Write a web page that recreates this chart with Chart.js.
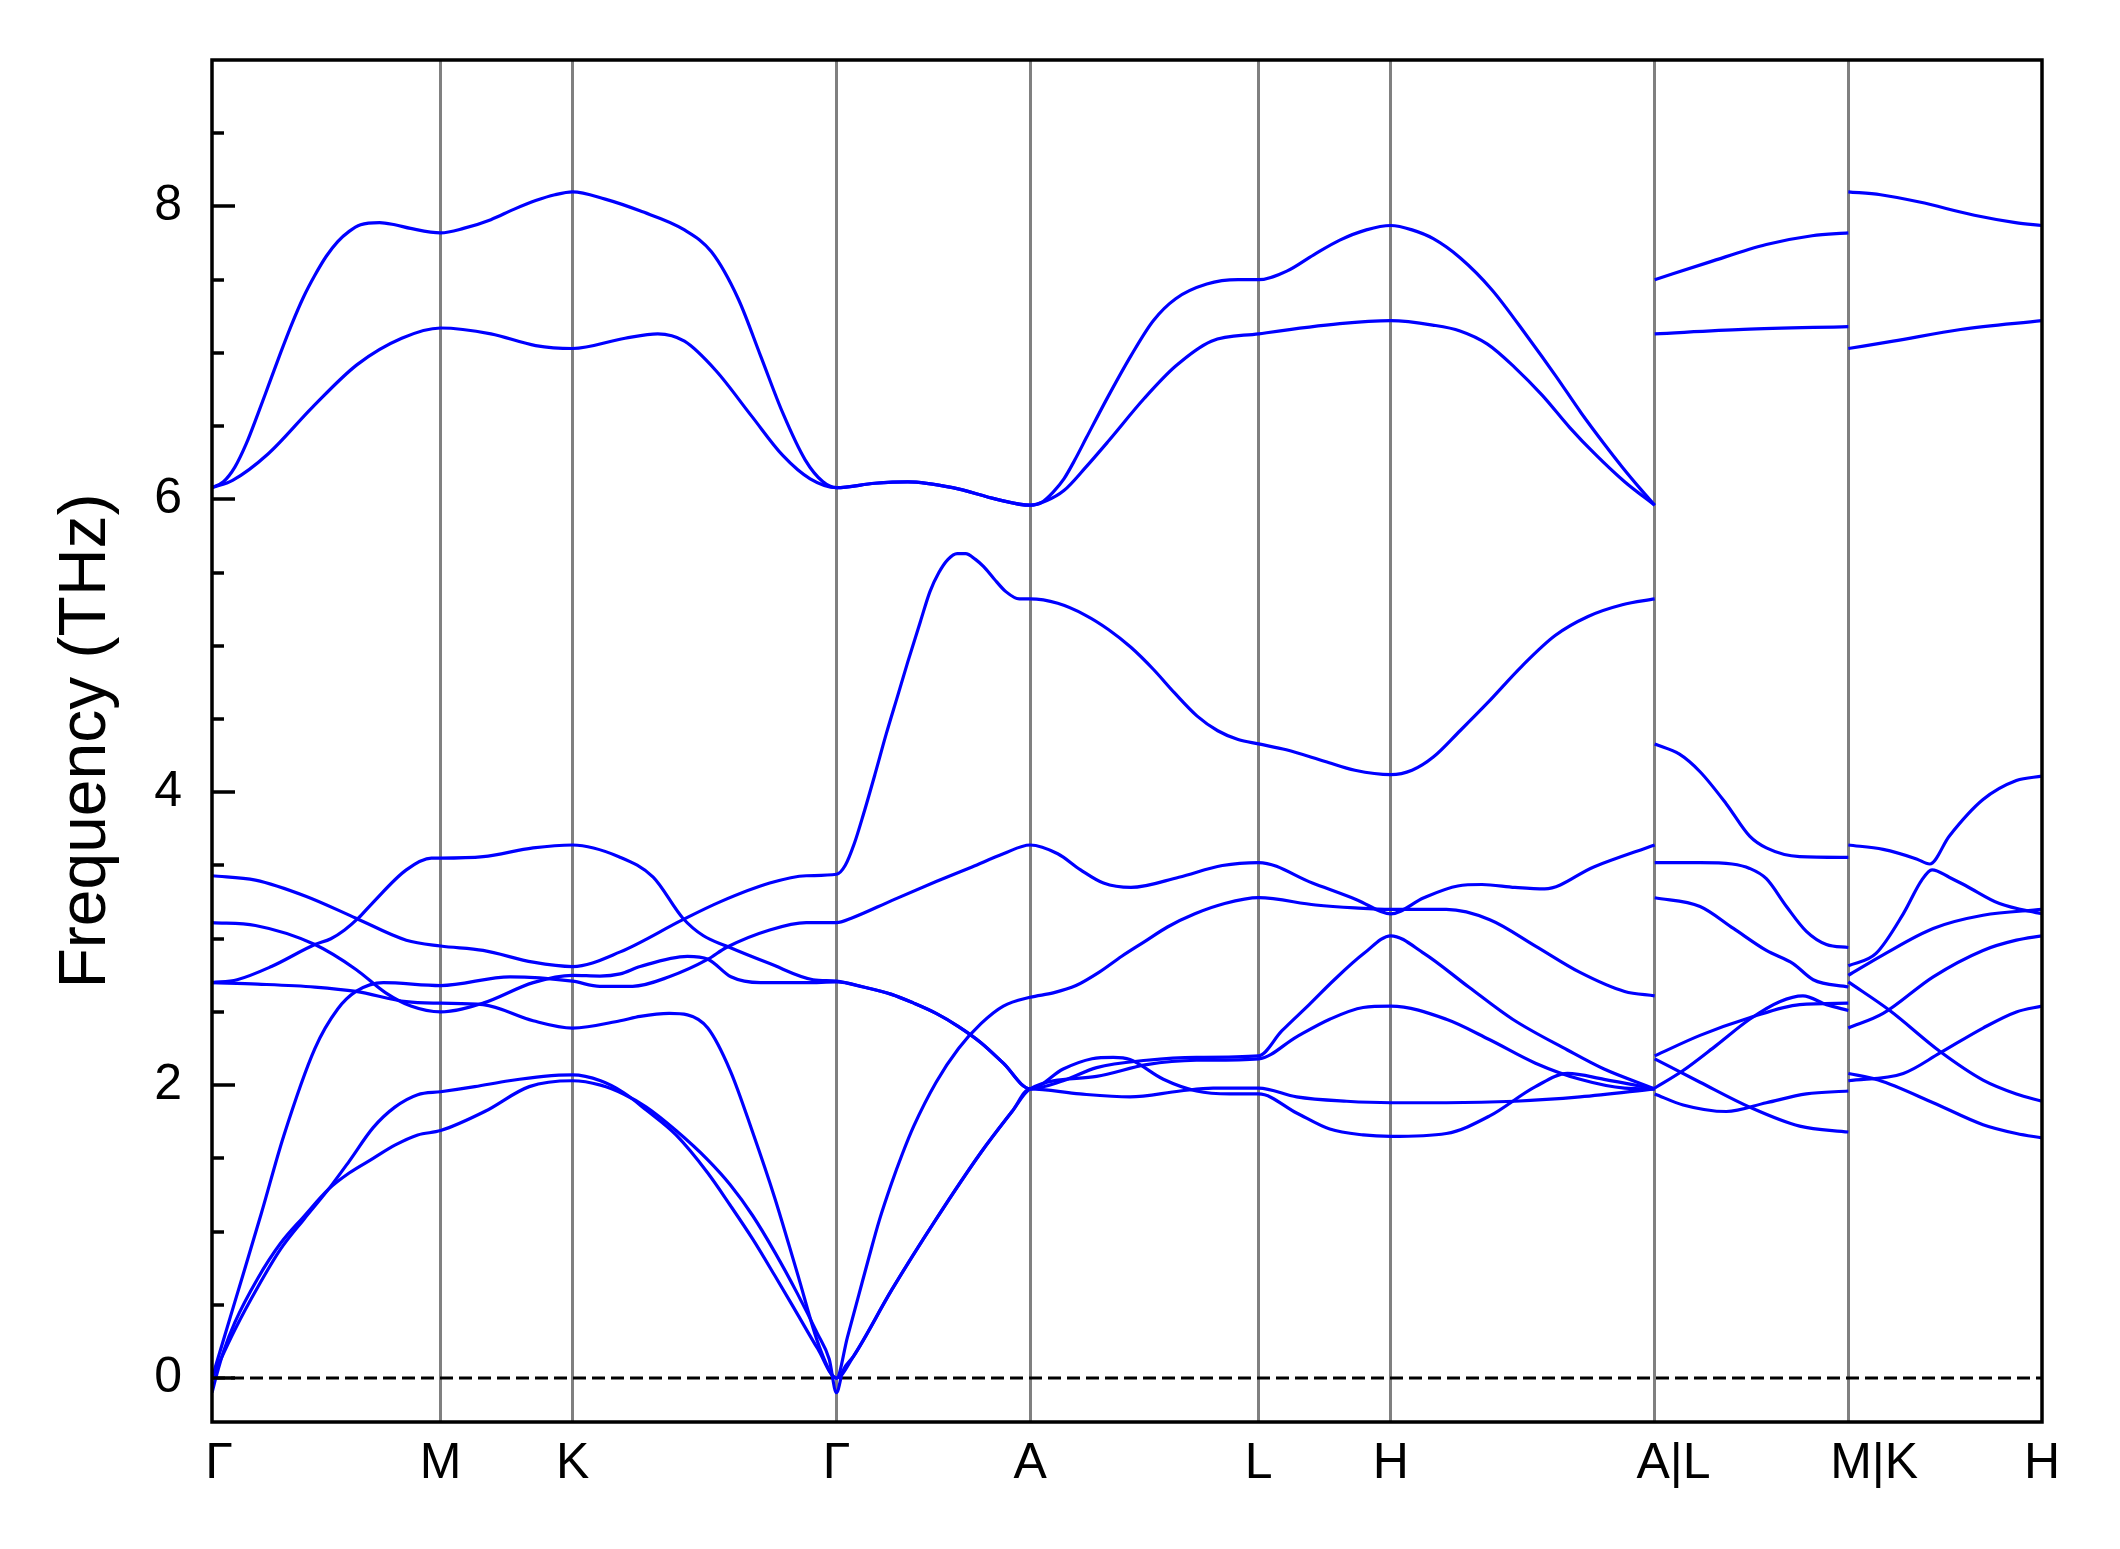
<!DOCTYPE html>
<html>
<head>
<meta charset="utf-8">
<script src="https://cdn.jsdelivr.net/npm/chart.js"></script>
<style>
html,body{margin:0;padding:0;background:#ffffff;}
#wrap{width:2120px;height:1549px;position:relative;}
</style>
</head>
<body>
<div id="wrap"><canvas id="c" width="2120" height="1549"></canvas></div>
<script>
// High-symmetry path (cumulative path length, Γ–M = 1)
const kLabels = ['\u0020Γ', 'M', 'K', 'Γ', 'A', 'L', 'H', '\u0020\u0020\u2009A|L', '\u0020\u0020\u0020\u2009M|K', 'H'];
const kPos = [0, 1, 1.5774, 2.7321, 3.5794, 4.5794, 5.1568, 6.3115, 7.1588, 8.006];
const yMajor = [0, 2, 4, 6, 8];
const yMinor = [0.5, 1, 1.5, 2.5, 3, 3.5, 4.5, 5, 5.5, 6.5, 7, 7.5, 8.5];

// ---- Section 1: Γ–M–K–Γ–A–L–H–A  ([x, THz]) ----
const band1 = [[0,6.08],[0.05,6.12],[0.10,6.22],[0.15,6.38],[0.20,6.58],[0.25,6.79],[0.30,7.00],[0.35,7.20],[0.40,7.38],[0.45,7.53],[0.50,7.66],[0.55,7.76],[0.60,7.83],[0.65,7.875],[0.733,7.89],[0.80,7.875],[0.869,7.85],[1.0,7.82],[1.10,7.85],[1.22,7.91],[1.32,7.98],[1.416,8.04],[1.50,8.08],[1.577,8.10],[1.72,8.05],[1.872,7.97],[2.067,7.84],[2.185,7.69],[2.302,7.37],[2.40,6.98],[2.497,6.59],[2.595,6.27],[2.673,6.12],[2.732,6.08],[2.90,6.11],[3.044,6.12],[3.24,6.08],[3.434,6.0],[3.579,5.96],[3.63,5.98],[3.68,6.05],[3.727,6.14],[3.775,6.27],[3.825,6.42],[3.923,6.71],[4.02,6.98],[4.118,7.22],[4.216,7.37],[4.352,7.47],[4.489,7.50],[4.579,7.50],[4.704,7.56],[4.82,7.67],[4.934,7.77],[5.05,7.84],[5.157,7.87],[5.25,7.84],[5.343,7.78],[5.46,7.65],[5.60,7.43],[5.76,7.10],[5.88,6.84],[5.99,6.59],[6.09,6.38],[6.17,6.22],[6.25,6.07],[6.3115,5.96]];
const band2 = [[0,6.08],[0.09,6.13],[0.245,6.31],[0.44,6.63],[0.635,6.92],[0.83,7.10],[1.0,7.17],[1.22,7.13],[1.416,7.05],[1.577,7.03],[1.807,7.10],[1.95,7.13],[2.067,7.08],[2.204,6.88],[2.36,6.57],[2.497,6.30],[2.617,6.14],[2.732,6.08],[2.90,6.11],[3.044,6.12],[3.24,6.08],[3.434,6.0],[3.579,5.96],[3.65,5.99],[3.727,6.06],[3.823,6.22],[3.923,6.40],[4.079,6.69],[4.216,6.91],[4.372,7.08],[4.579,7.13],[4.934,7.20],[5.157,7.22],[5.34,7.19],[5.46,7.15],[5.58,7.06],[5.70,6.90],[5.82,6.71],[5.94,6.49],[6.05,6.31],[6.18,6.12],[6.3115,5.96]];
const band3 = [[0,2.70],[0.11,2.72],[0.26,2.81],[0.45,2.96],[0.52,3.00],[0.58,3.06],[0.64,3.14],[0.70,3.24],[0.85,3.47],[0.96,3.55],[1.0,3.55],[1.186,3.56],[1.405,3.62],[1.577,3.64],[1.78,3.56],[1.93,3.42],[2.06,3.14],[2.15,3.02],[2.25,2.95],[2.44,2.83],[2.63,2.72],[2.732,2.71],[2.85,2.67],[2.973,2.62],[3.07,2.56],[3.168,2.49],[3.266,2.40],[3.364,2.29],[3.462,2.15],[3.579,1.975],[3.724,2.11],[3.85,2.18],[3.943,2.19],[4.016,2.175],[4.162,2.04],[4.307,1.96],[4.453,1.94],[4.579,1.94],[4.745,1.81],[4.89,1.70],[5.036,1.66],[5.157,1.65],[5.40,1.67],[5.59,1.79],[5.79,1.99],[5.93,2.08],[6.09,2.04],[6.3115,1.975]];
const band4 = [[0,3.43],[0.19,3.40],[0.41,3.29],[0.63,3.14],[0.85,2.99],[1.0,2.95],[1.186,2.92],[1.405,2.84],[1.577,2.81],[1.786,2.91],[2.06,3.13],[2.22,3.25],[2.44,3.38],[2.60,3.43],[2.732,3.44],[2.77,3.50],[2.81,3.65],[2.85,3.85],[2.90,4.12],[2.95,4.40],[3.0,4.66],[3.044,4.89],[3.10,5.17],[3.141,5.37],[3.18,5.50],[3.22,5.59],[3.26,5.63],[3.297,5.63],[3.34,5.59],[3.376,5.54],[3.42,5.46],[3.473,5.37],[3.532,5.32],[3.579,5.32],[3.70,5.29],[3.82,5.21],[3.923,5.11],[4.02,4.99],[4.118,4.84],[4.21,4.68],[4.31,4.52],[4.40,4.42],[4.489,4.36],[4.579,4.33],[4.70,4.29],[4.87,4.21],[5.0,4.15],[5.157,4.12],[5.25,4.15],[5.343,4.24],[5.46,4.42],[5.58,4.61],[5.73,4.86],[5.876,5.07],[6.02,5.20],[6.17,5.28],[6.3115,5.32]];
const band5 = [[0,3.11],[0.19,3.09],[0.45,2.96],[0.63,2.79],[0.76,2.63],[0.87,2.54],[1.0,2.50],[1.186,2.56],[1.405,2.70],[1.577,2.75],[1.697,2.745],[1.786,2.76],[1.873,2.81],[2.08,2.88],[2.17,2.86],[2.27,2.74],[2.40,2.70],[2.60,2.70],[2.732,2.705],[2.85,2.67],[2.973,2.62],[3.07,2.56],[3.168,2.49],[3.266,2.40],[3.364,2.29],[3.462,2.15],[3.579,1.975],[3.724,2.03],[3.87,2.12],[4.089,2.17],[4.307,2.19],[4.579,2.20],[4.68,2.37],[4.80,2.55],[4.91,2.72],[5.04,2.90],[5.157,3.02],[5.302,2.90],[5.498,2.67],[5.69,2.45],[5.93,2.24],[6.09,2.11],[6.3115,1.975]];
const band6 = [[0,2.70],[0.2,2.69],[0.45,2.67],[0.63,2.64],[0.85,2.57],[1.0,2.56],[1.186,2.55],[1.405,2.44],[1.577,2.39],[1.786,2.44],[1.873,2.47],[2.0,2.49],[2.08,2.48],[2.169,2.39],[2.267,2.10],[2.365,1.68],[2.462,1.23],[2.56,0.72],[2.658,0.21],[2.732,0],[2.78,0.28],[2.83,0.57],[2.875,0.83],[2.92,1.08],[2.973,1.33],[3.02,1.53],[3.07,1.72],[3.168,2.02],[3.266,2.25],[3.364,2.42],[3.462,2.54],[3.579,2.60],[3.68,2.63],[3.78,2.68],[3.88,2.77],[3.98,2.88],[4.08,2.98],[4.18,3.08],[4.30,3.17],[4.43,3.24],[4.579,3.28],[4.828,3.23],[5.0,3.21],[5.157,3.20],[5.40,3.20],[5.59,3.13],[5.79,2.95],[5.985,2.77],[6.18,2.64],[6.3115,2.61]];
const band7 = [[0,0],[0.1,0.52],[0.215,1.12],[0.313,1.65],[0.45,2.25],[0.55,2.52],[0.63,2.64],[0.75,2.70],[1.0,2.68],[1.304,2.74],[1.577,2.71],[1.697,2.675],[1.84,2.675],[2.0,2.74],[2.17,2.86],[2.25,2.94],[2.44,3.06],[2.60,3.11],[2.732,3.11],[2.797,3.14],[2.973,3.26],[3.168,3.39],[3.325,3.49],[3.462,3.58],[3.579,3.64],[3.70,3.58],[3.80,3.47],[3.90,3.38],[4.02,3.35],[4.23,3.42],[4.42,3.50],[4.579,3.52],[4.814,3.38],[5.01,3.265],[5.157,3.17],[5.302,3.28],[5.45,3.36],[5.556,3.37],[5.70,3.35],[5.83,3.34],[6.045,3.49],[6.3115,3.64]];
const band8 = [[0,0],[0.1,0.33],[0.2,0.62],[0.3,0.88],[0.4,1.08],[0.51,1.29],[0.6,1.48],[0.705,1.71],[0.8,1.85],[0.9,1.935],[1.0,1.955],[1.15,1.99],[1.3,2.03],[1.45,2.06],[1.577,2.07],[1.70,2.03],[1.80,1.95],[1.90,1.83],[2.03,1.66],[2.169,1.40],[2.267,1.18],[2.365,0.95],[2.462,0.70],[2.56,0.44],[2.65,0.20],[2.732,0],[2.807,0.15],[2.973,0.60],[3.168,1.085],[3.364,1.54],[3.50,1.82],[3.579,1.975],[3.87,2.06],[4.089,2.14],[4.307,2.17],[4.579,2.18],[4.745,2.33],[4.89,2.45],[5.036,2.53],[5.157,2.54],[5.40,2.45],[5.59,2.31],[5.79,2.15],[5.985,2.04],[6.18,1.98],[6.3115,1.975]];
const band9 = [[0,-0.1],[0.02,0.02],[0.05,0.18],[0.1,0.38],[0.2,0.68],[0.3,0.92],[0.4,1.1],[0.51,1.29],[0.6,1.40],[0.705,1.50],[0.8,1.59],[0.9,1.66],[1.0,1.69],[1.193,1.82],[1.388,1.99],[1.577,2.03],[1.70,2.00],[1.80,1.94],[1.90,1.85],[2.03,1.69],[2.169,1.49],[2.267,1.32],[2.365,1.11],[2.462,0.86],[2.56,0.58],[2.65,0.30],[2.70,0.13],[2.732,-0.1],[2.76,0.05],[2.807,0.15],[2.973,0.60],[3.168,1.085],[3.364,1.54],[3.50,1.82],[3.579,1.975],[3.797,1.94],[4.016,1.92],[4.235,1.96],[4.38,1.98],[4.579,1.98],[4.745,1.92],[4.964,1.89],[5.157,1.88],[5.40,1.88],[5.70,1.89],[5.985,1.92],[6.3115,1.975]];

// ---- Section 2: L–M ----
const lm1 = [[6.3115,4.33],[6.42,4.26],[6.51,4.14],[6.625,3.92],[6.727,3.70],[6.80,3.62],[6.946,3.56],[7.1588,3.555]];
const lm2 = [[6.3115,3.52],[6.51,3.52],[6.65,3.51],[6.727,3.48],[6.80,3.41],[6.888,3.22],[6.975,3.05],[7.063,2.96],[7.1588,2.94]];
const lm3 = [[6.3115,3.28],[6.51,3.22],[6.656,3.07],[6.80,2.92],[6.917,2.83],[7.005,2.72],[7.1588,2.67]];
const lm4 = [[6.3115,2.20],[6.51,2.34],[6.727,2.46],[6.946,2.55],[7.1588,2.56]];
const lm5 = [[6.3115,2.18],[6.51,2.02],[6.727,1.85],[6.946,1.72],[7.1588,1.68]];
const lm6 = [[6.3115,1.98],[6.436,2.10],[6.58,2.27],[6.727,2.45],[6.858,2.57],[6.96,2.61],[7.063,2.55],[7.1588,2.51]];
const lm7 = [[6.3115,1.94],[6.436,1.865],[6.625,1.82],[6.80,1.88],[6.975,1.94],[7.1588,1.96]];
const lm8 = [[6.3115,7.50],[6.55,7.62],[6.80,7.74],[7.0,7.80],[7.1588,7.82]];
const lm9 = [[6.3115,7.13],[6.7,7.16],[7.1588,7.18]];

// ---- Section 3: K–H ----
const kh1 = [[7.1588,3.64],[7.311,3.61],[7.457,3.545],[7.515,3.51],[7.60,3.70],[7.748,3.95],[7.894,4.08],[8.006,4.11]];
const kh2 = [[7.1588,2.815],[7.28,2.90],[7.399,3.17],[7.48,3.40],[7.525,3.47],[7.60,3.42],[7.675,3.36],[7.82,3.24],[8.006,3.17]];
const kh3 = [[7.1588,2.75],[7.311,2.89],[7.53,3.07],[7.748,3.16],[8.006,3.20]];
const kh4 = [[7.1588,2.705],[7.34,2.51],[7.56,2.23],[7.748,2.035],[7.894,1.94],[8.006,1.89]];
const kh5 = [[7.1588,2.39],[7.311,2.49],[7.53,2.74],[7.748,2.92],[7.894,2.99],[8.006,3.02]];
const kh6 = [[7.1588,2.08],[7.29,2.035],[7.53,1.88],[7.748,1.73],[7.894,1.67],[8.006,1.64]];
const kh7 = [[7.1588,2.03],[7.399,2.08],[7.56,2.22],[7.748,2.39],[7.894,2.50],[8.006,2.54]];
const kh8 = [[7.1588,8.10],[7.30,8.08],[7.47,8.03],[7.71,7.94],[7.89,7.89],[8.006,7.87]];
const kh9 = [[7.1588,7.03],[7.355,7.08],[7.65,7.16],[8.006,7.22]];

const zeroLine = [[0,0],[8.006,0]];

const bands = [band1,band2,band3,band4,band5,band6,band7,band8,band9,
               lm1,lm2,lm3,lm4,lm5,lm6,lm7,lm8,lm9,
               kh1,kh2,kh3,kh4,kh5,kh6,kh7,kh8,kh9];

const FONT = "'Liberation Sans', Arial, Helvetica, sans-serif";

const datasets = bands.map(b => ({
  data: b.map(p => ({x: p[0], y: p[1]})),
  borderColor: '#0000ff',
  borderWidth: 3.2,
  pointRadius: 0,
  fill: false,
  cubicInterpolationMode: 'monotone'
}));
datasets.push({
  data: zeroLine.map(p => ({x: p[0], y: p[1]})),
  borderColor: '#000000',
  borderWidth: 3,
  borderDash: [13, 6],
  pointRadius: 0,
  fill: false
});

const framePlugin = {
  id: 'frame',
  afterDatasetsDraw(chart) {
    const {ctx, chartArea: a, scales} = chart;
    const y = scales.y;
    ctx.save();
    ctx.strokeStyle = '#000';
    ctx.lineWidth = 3.5;
    ctx.lineCap = 'butt';
    ctx.beginPath();
    yMajor.forEach(v => {
      const p = Math.round(y.getPixelForValue(v));
      ctx.moveTo(a.left, p); ctx.lineTo(a.left + 23, p);
    });
    yMinor.forEach(v => {
      const p = Math.round(y.getPixelForValue(v));
      ctx.moveTo(a.left, p); ctx.lineTo(a.left + 12, p);
    });
    ctx.stroke();
    ctx.strokeRect(a.left, a.top, a.right - a.left, a.bottom - a.top);
    ctx.restore();
  }
};

new Chart(document.getElementById('c'), {
  type: 'line',
  data: {datasets},
  options: {
    responsive: false,
    animation: false,
    devicePixelRatio: 1,
    layout: {padding: {top: 58, right: 78, left: 0, bottom: 0}},
    plugins: {legend: {display: false}, tooltip: {enabled: false}},
    scales: {
      x: {
        type: 'linear', min: 0, max: 8.006,
        afterBuildTicks: s => { s.ticks = kPos.map(v => ({value: v})); },
        afterFit: s => { s.height = 127; },
        ticks: {
          autoSkip: false, maxRotation: 0, minRotation: 0, padding: 12,
          color: '#000', font: {family: FONT, size: 50},
          callback: (v, i) => kLabels[i]
        },
        grid: {
          drawTicks: false, lineWidth: 3,
          color: c => (c.index === 0 || c.index === kPos.length - 1) ? 'rgba(0,0,0,0)' : '#808080'
        },
        border: {display: false}
      },
      y: {
        type: 'linear', min: -0.3, max: 9,
        afterBuildTicks: s => { s.ticks = yMajor.map(v => ({value: v})); },
        afterFit: s => { s.width = 212; },
        ticks: {padding: 30, color: '#000', font: {family: FONT, size: 50}},
        grid: {display: false, drawTicks: false},
        border: {display: false},
        title: {
          display: true, text: 'Frequency (THz)', color: '#000',
          font: {family: FONT, size: 66},
          padding: {top: 47, bottom: 0}
        }
      }
    }
  },
  plugins: [framePlugin]
});
</script>
</body>
</html>
